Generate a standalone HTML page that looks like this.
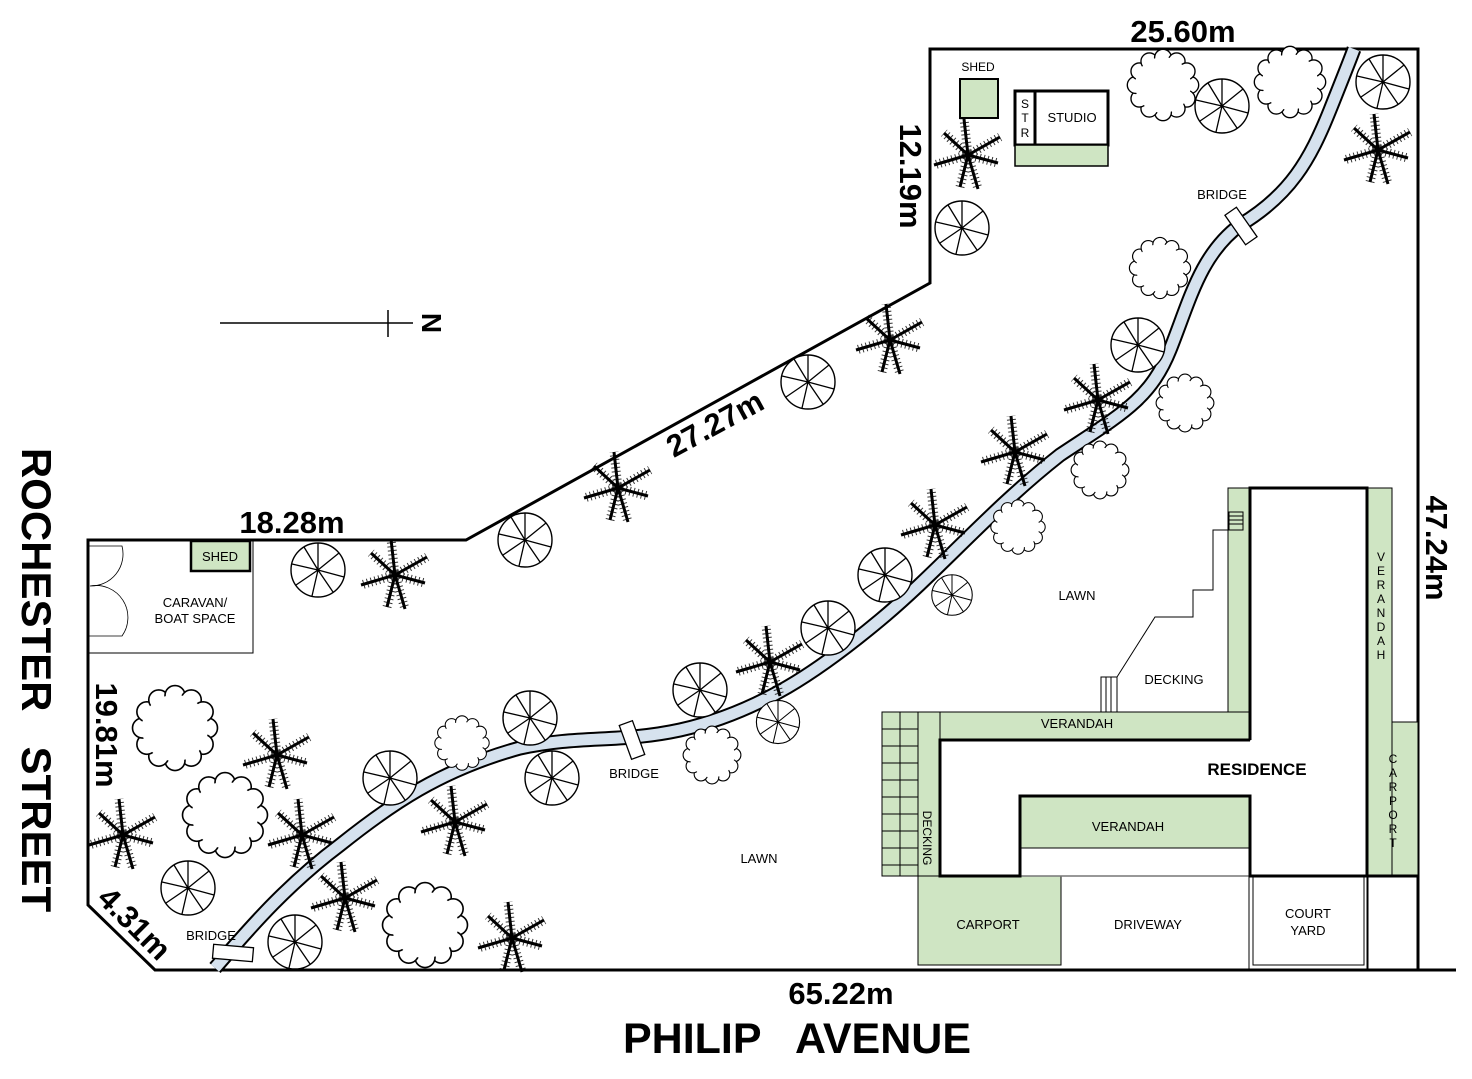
<!DOCTYPE html>
<html><head><meta charset="utf-8"><style>
html,body{margin:0;padding:0;background:#fff}
svg{display:block}
text{font-family:"Liberation Sans",sans-serif;fill:#000}
</style></head><body>
<svg width="1472" height="1079" viewBox="0 0 1472 1079" xmlns="http://www.w3.org/2000/svg">
<defs>
<g id="um">
<circle r="27" fill="#fff" stroke="#000" stroke-width="1.4"/>
<path d="M0 0L0 -27M0 0L21 -17M0 0L26 7M0 0L15 22M0 0L-6 26M0 0L-22 15M0 0L-26 -6M0 0L-14 -23" stroke="#000" stroke-width="1.3"/>
</g>
<g id="cl">
<g fill="#fff" stroke="#000" stroke-width="1.3">
<circle cx="26" cy="0" r="8"/><circle cx="22.5" cy="13" r="8"/><circle cx="13" cy="22.5" r="8"/><circle cx="0" cy="26" r="8"/><circle cx="-13" cy="22.5" r="8"/><circle cx="-22.5" cy="13" r="8"/><circle cx="-26" cy="0" r="8"/><circle cx="-22.5" cy="-13" r="8"/><circle cx="-13" cy="-22.5" r="8"/><circle cx="0" cy="-26" r="8"/><circle cx="13" cy="-22.5" r="8"/><circle cx="22.5" cy="-13" r="8"/>
</g>
<circle r="26.5" fill="#fff"/>
</g>
<g id="pm" stroke="#000" fill="none">
<path d="M0 0L-4 -36M0 0L32 -18M0 0L30 8M0 0L10 34M0 0L-8 32M0 0L-34 10M0 0L-24 -22" stroke-width="3"/>
<path d="M0 0L-4 -36M0 0L32 -18M0 0L30 8M0 0L10 34M0 0L-8 32M0 0L-34 10M0 0L-24 -22" stroke-width="9" stroke-dasharray="1 3" opacity="0.8"/>
</g>
</defs>

<polygon points="88,540 466,540 930,283 930,49 1418,49 1418,970 155,970 88,905" fill="#fff" stroke="#000" stroke-width="3"/>
<line x1="1418" y1="970" x2="1456" y2="970" stroke="#000" stroke-width="3"/>

<rect x="88" y="540" width="165" height="113" fill="none" stroke="#000" stroke-width="1"/>
<path d="M88 546 L122 546 A32 32 0 0 1 90 586 A32 32 0 0 1 122 636 L88 636" fill="none" stroke="#000" stroke-width="0.8"/>
<rect x="191" y="541" width="59" height="30" fill="#cfe5c3" stroke="#000" stroke-width="2.5"/>
<text x="220" y="561" font-size="13" text-anchor="middle">SHED</text>
<text x="195" y="607" font-size="13" text-anchor="middle">CARAVAN/</text>
<text x="195" y="623" font-size="13" text-anchor="middle">BOAT SPACE</text>

<path d="M215 968 C240 940 280 890 340 845 C390 805 440 770 520 748 C580 735 620 743 680 730 C760 712 820 670 880 620 C940 570 990 510 1060 455 C1120 415 1150 400 1170 350 C1190 300 1200 255 1240 225 C1290 195 1310 160 1330 110 C1342 80 1350 60 1354 49" fill="none" stroke="#000" stroke-width="15"/>
<path d="M215 968 C240 940 280 890 340 845 C390 805 440 770 520 748 C580 735 620 743 680 730 C760 712 820 670 880 620 C940 570 990 510 1060 455 C1120 415 1150 400 1170 350 C1190 300 1200 255 1240 225 C1290 195 1310 160 1330 110 C1342 80 1350 60 1354 49" fill="none" stroke="#d6e2ee" stroke-width="11"/>
<rect x="-20" y="-7" width="40" height="14" fill="#fff" stroke="#000" stroke-width="1.3" transform="translate(233,953) rotate(5)"/>
<rect x="-18" y="-7" width="36" height="14" fill="#fff" stroke="#000" stroke-width="1.3" transform="translate(632,740) rotate(70)"/>
<rect x="-18" y="-7" width="36" height="14" fill="#fff" stroke="#000" stroke-width="1.3" transform="translate(1241,226) rotate(55)"/>
<text x="211" y="940" font-size="13" text-anchor="middle">BRIDGE</text>
<text x="634" y="778" font-size="13" text-anchor="middle">BRIDGE</text>
<text x="1222" y="199" font-size="13" text-anchor="middle">BRIDGE</text>

<rect x="960" y="79" width="38" height="39" fill="#cfe5c3" stroke="#000" stroke-width="2"/>
<text x="978" y="71" font-size="12" text-anchor="middle">SHED</text>
<rect x="1015" y="91" width="93" height="54" fill="#fff" stroke="#000" stroke-width="3"/>
<line x1="1035" y1="91" x2="1035" y2="145" stroke="#000" stroke-width="3"/>
<rect x="1015" y="145" width="93" height="21" fill="#cfe5c3" stroke="#000" stroke-width="1.5"/>
<text x="1025" y="108" font-size="12" text-anchor="middle">S</text>
<text x="1025" y="122" font-size="12" text-anchor="middle">T</text>
<text x="1025" y="137" font-size="12" text-anchor="middle">R</text>
<text x="1072" y="122" font-size="13" text-anchor="middle">STUDIO</text>

<g stroke="#000">
<rect x="1228" y="488" width="22" height="252" fill="#cfe5c3" stroke-width="1"/>
<rect x="918" y="712" width="332" height="28" fill="#cfe5c3" stroke-width="1"/>
<rect x="918" y="712" width="22" height="164" fill="#cfe5c3" stroke-width="1"/>
<rect x="882" y="712" width="36" height="164" fill="#cfe5c3" stroke-width="1"/>
<path d="M900 712V876M882 729H918M882 746H918M882 763H918M882 780H918M882 797H918M882 814H918M882 831H918M882 848H918M882 865H918" stroke-width="1" fill="none"/>
<rect x="1367" y="488" width="25" height="388" fill="#cfe5c3" stroke-width="1"/>
<rect x="1392" y="722" width="26" height="154" fill="#cfe5c3" stroke-width="1"/>
<rect x="1020" y="796" width="230" height="52" fill="#cfe5c3" stroke-width="1"/>
<rect x="918" y="876" width="143" height="89" fill="#cfe5c3" stroke-width="1"/>
<rect x="1249" y="876" width="119" height="93" fill="none" stroke-width="1"/>
<rect x="1253" y="876" width="111" height="89" fill="none" stroke-width="1"/>
<line x1="1367" y1="876" x2="1367" y2="970" stroke-width="1"/>
<line x1="1020" y1="876" x2="1250" y2="876" stroke="#777" stroke-width="1.5"/>
<path d="M1250 740V488H1367V876M1250 740H940V876H1020V796H1250V876H1418" fill="none" stroke-width="3"/>
<path d="M1228 530H1213V590H1193V617H1155L1117 677V712" fill="none" stroke-width="1"/>
<path d="M1101 677H1117V712H1101ZM1106 677V712M1111 677V712" fill="none" stroke-width="1"/>
<path d="M1229 512H1243V530H1229ZM1229 516H1243M1229 520H1243M1229 524H1243" fill="none" stroke-width="1"/>
</g>
<g font-size="13" text-anchor="middle">
<text x="1077" y="600">LAWN</text>
<text x="759" y="863">LAWN</text>
<text x="1174" y="684">DECKING</text>
<text x="1077" y="728">VERANDAH</text>
<text x="1128" y="831">VERANDAH</text>
<text x="1257" y="775" font-size="17" font-weight="bold">RESIDENCE</text>
<text x="988" y="929">CARPORT</text>
<text x="1148" y="929">DRIVEWAY</text>
<text x="1308" y="918">COURT</text>
<text x="1308" y="935">YARD</text>
<text transform="translate(923,838) rotate(90)" font-size="12">DECKING</text>
</g>
<g font-size="12" text-anchor="middle">
<text x="1381" y="561">V</text><text x="1381" y="575">E</text><text x="1381" y="589">R</text><text x="1381" y="603">A</text><text x="1381" y="617">N</text><text x="1381" y="631">D</text><text x="1381" y="645">A</text><text x="1381" y="659">H</text>
<text x="1393" y="763">C</text><text x="1393" y="777">A</text><text x="1393" y="791">R</text><text x="1393" y="805">P</text><text x="1393" y="819">O</text><text x="1393" y="833">R</text><text x="1393" y="847">T</text>
</g>

<use href="#um" x="318" y="570"/><use href="#um" x="525" y="540"/><use href="#um" x="808" y="382"/><use href="#um" x="885" y="575"/><use href="#um" x="828" y="628"/><use href="#um" x="700" y="690"/><use href="#um" x="530" y="718"/><use href="#um" x="552" y="778"/><use href="#um" x="390" y="778"/><use href="#um" x="295" y="942"/><use href="#um" x="188" y="888"/><use href="#um" x="1138" y="345"/><use href="#um" x="962" y="228"/><use href="#um" x="1222" y="106"/><use href="#um" x="1383" y="82"/>
<use href="#um" transform="translate(952,595) scale(0.75)"/><use href="#um" transform="translate(778,722) scale(0.8)"/>
<use href="#cl" transform="translate(175,728) scale(1.25)"/><use href="#cl" transform="translate(225,815) scale(1.25)"/><use href="#cl" transform="translate(425,925) scale(1.25)"/><use href="#cl" transform="translate(462,743) scale(0.8)"/><use href="#cl" transform="translate(712,755) scale(0.85)"/><use href="#cl" transform="translate(1100,470) scale(0.85)"/><use href="#cl" transform="translate(1018,527) scale(0.8)"/><use href="#cl" transform="translate(1160,268) scale(0.9)"/><use href="#cl" transform="translate(1185,403) scale(0.85)"/><use href="#cl" transform="translate(1163,85) scale(1.05)"/><use href="#cl" transform="translate(1290,82) scale(1.05)"/>
<use href="#pm" x="395" y="575"/><use href="#pm" x="618" y="488"/><use href="#pm" x="890" y="340"/><use href="#pm" x="1098" y="400"/><use href="#pm" x="1015" y="452"/><use href="#pm" x="935" y="525"/><use href="#pm" x="770" y="662"/><use href="#pm" x="277" y="755"/><use href="#pm" x="123" y="835"/><use href="#pm" x="302" y="835"/><use href="#pm" x="455" y="822"/><use href="#pm" x="345" y="898"/><use href="#pm" x="512" y="938"/><use href="#pm" x="968" y="155"/><use href="#pm" x="1378" y="150"/>

<line x1="220" y1="323" x2="413" y2="323" stroke="#000" stroke-width="1.5"/>
<line x1="388" y1="310" x2="388" y2="337" stroke="#000" stroke-width="1.5"/>
<text transform="translate(422,323) rotate(90)" font-size="28" font-weight="bold" text-anchor="middle">N</text>

<g font-weight="bold" font-size="31">
<text x="1183" y="42" text-anchor="middle">25.60m</text>
<text transform="translate(900,176) rotate(90)" text-anchor="middle">12.19m</text>
<text transform="translate(720,433) rotate(-28.5)" text-anchor="middle">27.27m</text>
<text x="292" y="533" text-anchor="middle">18.28m</text>
<text transform="translate(96,735) rotate(90)" text-anchor="middle">19.81m</text>
<text transform="translate(127,931) rotate(45)" text-anchor="middle">4.31m</text>
<text transform="translate(1426,548) rotate(90)" text-anchor="middle">47.24m</text>
<text x="841" y="1004" text-anchor="middle">65.22m</text>
<text x="797" y="1053" text-anchor="middle" font-size="43" xml:space="preserve">PHILIP   AVENUE</text>
<text transform="translate(22,680) rotate(90)" text-anchor="middle" font-size="42" xml:space="preserve">ROCHESTER   STREET</text>
</g>
</svg>
</body></html>
